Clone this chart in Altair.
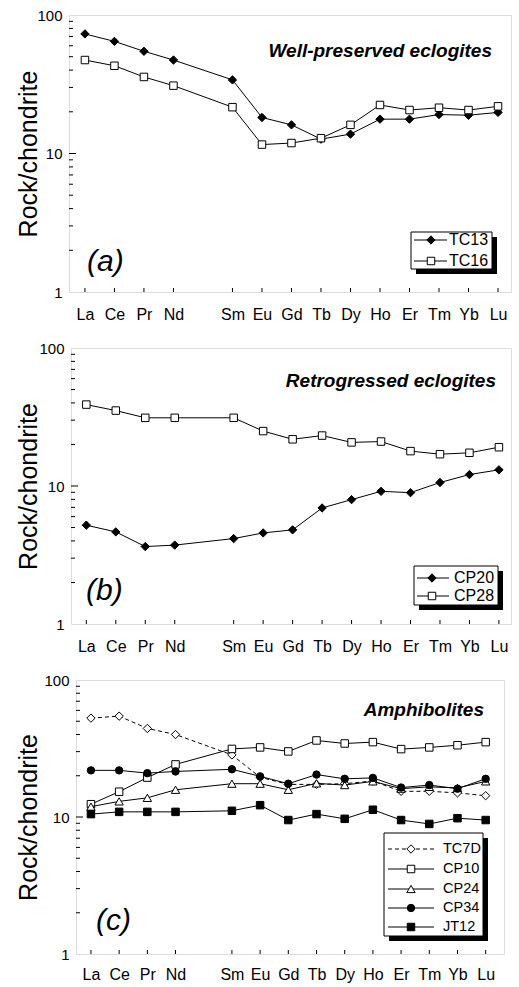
import altair as alt
import pandas as pd

# Chondrite-normalised REE patterns
ELEMENTS = ["La", "Ce", "Pr", "Nd", "Sm", "Eu", "Gd", "Tb", "Dy", "Ho", "Er", "Tm", "Yb", "Lu"]
ATOMIC_NUMBER = [57, 58, 59, 60, 62, 63, 64, 65, 66, 67, 68, 69, 70, 71]

# (a) well-preserved eclogites
TC13 = [73.0, 64.5, 54.7, 47.3, 34.0, 18.2, 16.1, 12.7, 13.8, 17.7, 17.7, 19.1, 18.9, 19.8]
TC16 = [47.3, 43.0, 35.7, 30.9, 21.6, 11.6, 11.9, 12.9, 16.1, 22.4, 20.6, 21.4, 20.6, 21.9]

# (b) retrogressed eclogites
CP20 = [5.2, 4.65, 3.64, 3.73, 4.16, 4.57, 4.81, 6.93, 7.97, 9.15, 8.95, 10.6, 12.1, 13.1]
CP28 = [38.9, 35.2, 31.2, 31.2, 31.2, 25.0, 21.8, 23.2, 20.7, 21.0, 17.9, 17.0, 17.4, 19.1]

# (c) amphibolites
TC7D = [52.7, 54.5, 44.3, 40.0, 28.4, 19.5, 17.3, 17.3, 17.5, 18.3, 15.4, 15.4, 15.0, 14.3]
CP10 = [12.4, 15.3, 19.4, 24.2, 31.4, 32.2, 30.1, 36.2, 34.4, 35.2, 31.3, 32.2, 33.4, 35.2]
CP24 = [11.9, 13.0, 13.8, 15.8, 17.5, 17.5, 15.8, 17.6, 17.1, 18.2, 16.1, 16.6, 16.3, 18.2]
CP34 = [21.9, 21.9, 20.9, 21.5, 22.3, 19.8, 17.5, 20.4, 19.0, 19.3, 16.4, 17.1, 16.1, 19.0]
JT12 = [10.5, 10.9, 10.9, 10.9, 11.1, 12.2, 9.5, 10.5, 9.7, 11.3, 9.5, 8.9, 9.8, 9.5]

Y_LABELS = [1, 10, 100]
Y_MINOR = [2, 3, 4, 5, 6, 7, 8, 9, 20, 30, 40, 50, 60, 70, 80, 90]
Y_MAJOR = [10]

FONT = "Liberation Sans"

# marker styles per sample
STYLE = {
    "TC13": dict(shape="diamond", fill="black", size=70, dash=None),
    "TC16": dict(shape="square", fill="white", size=56, dash=None),
    "CP20": dict(shape="diamond", fill="black", size=70, dash=None),
    "CP28": dict(shape="square", fill="white", size=56, dash=None),
    "TC7D": dict(shape="diamond", fill="white", size=70, dash=[4, 3]),
    "CP10": dict(shape="square", fill="white", size=56, dash=None),
    "CP24": dict(shape="triangle-up", fill="white", size=70, dash=None),
    "CP34": dict(shape="circle", fill="black", size=55, dash=None),
    "JT12": dict(shape="square", fill="black", size=56, dash=None),
}

one_row = pd.DataFrame({"k": [0]})

label_expr = "[{}][indexof([{}], datum.value)]".format(
    ",".join("'%s'" % e for e in ELEMENTS), ",".join(str(z) for z in ATOMIC_NUMBER)
)


def panel(series, xdomain, w, h, title_pad, label_pad, heading, heading_pos, tag, tag_pos,
          legend, legend_font):
    X = alt.X(
        "z:Q",
        scale=alt.Scale(domain=xdomain, nice=False, zero=False),
        axis=alt.Axis(
            values=ATOMIC_NUMBER, labelExpr=label_expr, ticks=False, domain=False, grid=False,
            title=None, labelFont=FONT, labelFontSize=16, labelPadding=label_pad,
            labelColor="black", labelFlush=False,
        ),
    )
    Y = alt.Y(
        "v:Q",
        scale=alt.Scale(type="log", domain=[1, 100], nice=False),
        axis=alt.Axis(
            values=Y_LABELS, format="d", ticks=False, domain=False, grid=False,
            title="Rock/chondrite", titleFont=FONT, titleFontSize=25, titleFontWeight="normal",
            titleColor="black", titlePadding=title_pad, labelFont=FONT, labelFontSize=15,
            labelPadding=7, labelColor="black",
        ),
    )

    layers = []
    # inward tick marks
    layers.append(
        alt.Chart(pd.DataFrame({"z": ATOMIC_NUMBER})).mark_rule(color="black", strokeWidth=1)
        .encode(x=X, y=alt.value(h), y2=alt.value(h - 4))
    )
    layers.append(
        alt.Chart(pd.DataFrame({"v": Y_MINOR})).mark_rule(color="black", strokeWidth=1)
        .encode(y=Y, x=alt.value(0), x2=alt.value(4))
    )
    layers.append(
        alt.Chart(pd.DataFrame({"v": Y_MAJOR})).mark_rule(color="black", strokeWidth=1)
        .encode(y=Y, x=alt.value(0), x2=alt.value(7))
    )

    for name, values in series:
        st = STYLE[name]
        df = pd.DataFrame({"z": ATOMIC_NUMBER, "v": values, "el": ELEMENTS})
        line_kw = dict(color="black", strokeWidth=1)
        if st["dash"]:
            line_kw["strokeDash"] = st["dash"]
        layers.append(alt.Chart(df).mark_line(**line_kw).encode(x=X, y=Y))
        layers.append(
            alt.Chart(df).mark_point(
                shape=st["shape"], filled=True, fill=st["fill"], stroke="black",
                strokeWidth=1, size=st["size"], opacity=1,
            ).encode(x=X, y=Y)
        )

    # heading and panel tag
    layers.append(
        alt.Chart(one_row).mark_text(
            align="right", baseline="middle", font=FONT, fontSize=19, fontStyle="italic",
            fontWeight="bold", color="black",
        ).encode(x=alt.value(heading_pos[0]), y=alt.value(heading_pos[1]), text=alt.value(heading))
    )
    layers.append(
        alt.Chart(one_row).mark_text(
            align="left", baseline="middle", font=FONT, fontSize=30, fontStyle="italic", color="black",
        ).encode(x=alt.value(tag_pos[0]), y=alt.value(tag_pos[1]), text=alt.value(tag))
    )

    # legend box with drop shadow
    (bx0, by0, bx1, by1), rows, (lx0, lx1), mx, tx = legend
    layers.append(
        alt.Chart(one_row).mark_rect(color="black").encode(
            x=alt.value(bx0 + 5), x2=alt.value(bx1 + 5), y=alt.value(by0 + 5), y2=alt.value(by1 + 5)
        )
    )
    layers.append(
        alt.Chart(one_row).mark_rect(fill="white", stroke="black", strokeWidth=1).encode(
            x=alt.value(bx0), x2=alt.value(bx1), y=alt.value(by0), y2=alt.value(by1)
        )
    )
    for (name, _), ry in zip(series, rows):
        st = STYLE[name]
        rule_kw = dict(color="black", strokeWidth=1)
        if st["dash"]:
            rule_kw["strokeDash"] = st["dash"]
        layers.append(
            alt.Chart(one_row).mark_rule(**rule_kw).encode(
                x=alt.value(lx0), x2=alt.value(lx1), y=alt.value(ry)
            )
        )
        layers.append(
            alt.Chart(one_row).mark_point(
                shape=st["shape"], filled=True, fill=st["fill"], stroke="black",
                strokeWidth=1, size=st["size"], opacity=1,
            ).encode(x=alt.value(mx), y=alt.value(ry))
        )
        layers.append(
            alt.Chart(one_row).mark_text(
                align="left", baseline="middle", font=FONT, fontSize=legend_font, color="black",
            ).encode(x=alt.value(tx), y=alt.value(ry), text=alt.value(name))
        )

    return alt.layer(*layers).properties(width=w, height=h)


def row(p):
    # a 1px invisible cell in the first column, so each panel is placed by its full bounds
    spacer = (
        alt.Chart(one_row).mark_point(opacity=0)
        .encode(x=alt.value(0), y=alt.value(0))
        .properties(width=1, height=1, view=alt.ViewBackground(stroke="transparent", fill="transparent"))
    )
    return alt.hconcat(spacer, p, spacing=0)


panel_a = panel(
    [("TC13", TC13), ("TC16", TC16)],
    [56.46, 71.44], 442, 277, -5, 14,
    "Well-preserved eclogites", (423, 36), "(a)", (18, 247),
    ((342, 217, 423, 254), [225, 246], (345, 378), 362, 380), 16,
)
panel_b = panel(
    [("CP20", CP20), ("CP28", CP28)],
    [56.48, 71.41], 440, 276, -3, 14,
    "Retrogressed eclogites", (425, 33), "(b)", (15, 243),
    ((343, 218, 427, 257), [230, 248], (346, 378), 361, 383), 16,
)
panel_c = panel(
    [("TC7D", TC7D), ("CP10", CP10), ("CP24", CP24), ("CP34", CP34), ("JT12", JT12)],
    [56.47, 71.65], 428, 274, 2, 12,
    "Amphibolites", (408, 30), "(c)", (20, 241),
    ((308, 153, 407, 256), [169, 189, 209, 228, 247], (312, 358), 335, 367), 14.5,
)

chart = (
    alt.vconcat(row(panel_a), row(panel_b), row(panel_c), spacing=17)
    .properties(padding={"left": 8, "top": 7, "right": 0, "bottom": 0})
    .configure_view(stroke="black", strokeWidth=1.5, fill="white")
    .configure(background="white")
)

chart.save("out.html", embed_options={"renderer": "svg", "actions": False})
